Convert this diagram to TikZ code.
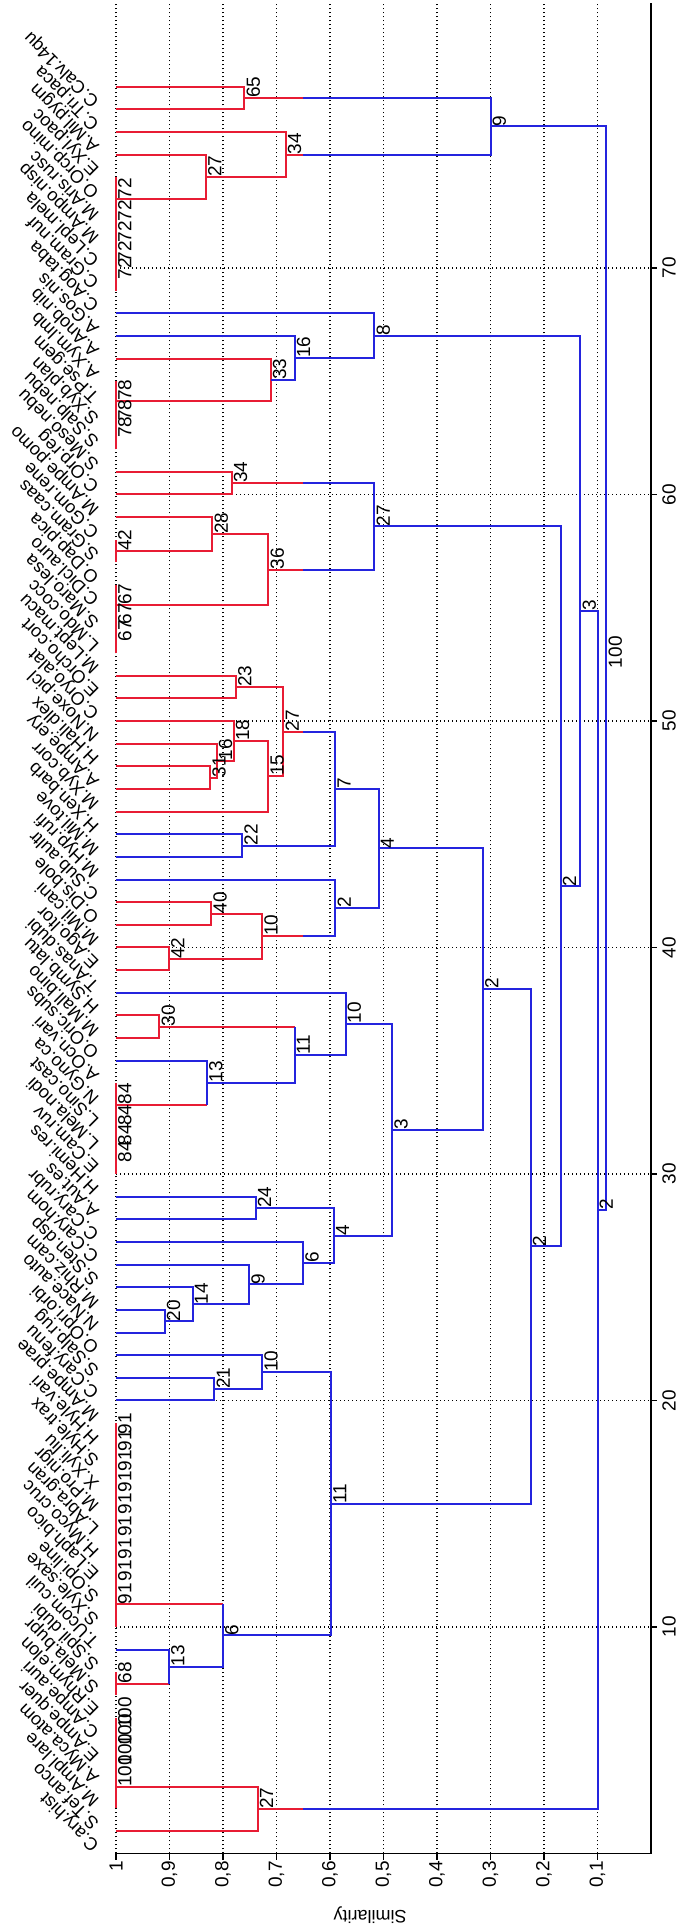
\documentclass[tikz,border=0pt]{standalone}
\usepackage{fontspec}
\setmainfont{Liberation Sans}
\newcommand\fsz{\fontsize{19}{21}\selectfont}
\newcommand\fsl{\fontsize{18}{20}\selectfont}
\definecolor{mred}{RGB}{232,28,52}
\definecolor{mblue}{RGB}{36,36,222}
\begin{document}
\begin{tikzpicture}[x=-535pt,y=22.65pt,
  rl/.style={draw=mred,line width=2pt},
  bl/.style={draw=mblue,line width=2pt},
  grd/.style={line width=1.4pt,dash pattern=on 1.4pt off 2.6pt},
  ax/.style={line width=1.8pt},
  mlab/.style={xshift=2pt,rotate=90,anchor=north west,inner sep=0pt,font=\fsz},
  llab/.style={rotate=135,anchor=base west,inner sep=0pt,font=\fsl},
  tlab/.style={rotate=90,anchor=east,inner sep=0pt,font=\fsz},
  ilab/.style={rotate=90,anchor=north,inner sep=0pt,font=\fsz}]
\useasboundingbox (1.21682,-3.3775) rectangle (-0.05234,81.832);
% grid
\foreach \s in {0.1,0.2,...,1.01} \draw[grd] (\s,0) -- (\s,81.7);
\foreach \k in {10,20,...,70} \draw[grd] (1,\k) -- (0,\k);
% axes
\draw[ax] (1,0) -- (0,0) -- (0,81.7);
\foreach \s/\t in {1/1,0.9/{0,9},0.8/{0,8},0.7/{0,7},0.6/{0,6},0.5/{0,5},0.4/{0,4},0.3/{0,3},0.2/{0,2},0.1/{0,1}}{
  \draw[ax] (\s,0) -- (\s,-0.27);
  \node[tlab] (t\s) at (\s,-0.33) {\t};}
\foreach \k in {10,20,...,70}{
  \draw[ax] (0,\k) -- (-0.011,\k);
  \node[ilab] (i\k) at (-0.021,\k) {\k};}
\node[rotate=180,inner sep=0pt,font=\fsl] (ylab) at (0.525,-2.715) {Similarity};
% ---- top cluster
\draw[rl] (1,78) -| (.76,77) -- (1,77);
\draw[rl] (1,69) -- (1,74);
\draw[rl] (1,75) -| (.832,73.03) -- (1,73.03);
\draw[rl] (1,76) -| (.683,74.015) -- (.832,74.015);
\draw[rl] (.76,77.5) -- (.65,77.5);
\draw[rl] (.683,75.0075) -- (.65,75.0075);
\draw[bl] (.65,77.5) -| (.30,75.0075) -- (.65,75.0075);
% ---- H cluster
\draw[rl] (1,62) -- (1,65);
\draw[rl] (1,66) -| (.711,64.125) -- (1,64.125);
\draw[bl] (1,67) -| (.666,65.0625) -- (.711,65.0625);
\draw[bl] (1,68) -| (.517,66.031) -- (.666,66.031);
% ---- L cluster
\draw[rl] (1,61) -| (.784,60) -- (1,60);
\draw[rl] (1,57) -- (1,58);
\draw[rl] (1,59) -| (.82,57.5) -- (1,57.5);
\draw[rl] (1,53) -- (1,56);
\draw[rl] (.82,58.25) -| (.715,55.125) -- (1,55.125);
\draw[rl] (.784,60.5) -- (.65,60.5);
\draw[rl] (.715,56.6875) -- (.65,56.6875);
\draw[bl] (.65,60.5) -| (.517,56.6875) -- (.65,56.6875);
% ---- Q / T cluster
\draw[rl] (1,52) -| (.776,51) -- (1,51);
\draw[rl] (1,48) -| (.824,47) -- (1,47);
\draw[rl] (1,49) -| (.812,47.5) -- (.824,47.5);
\draw[rl] (1,50) -| (.78,48.25) -- (.812,48.25);
\draw[rl] (.78,49.125) -| (.715,46) -- (1,46);
\draw[rl] (.776,51.5) -| (.687,47.5625) -- (.715,47.5625);
\draw[bl] (1,45) -| (.764,44) -- (1,44);
\draw[rl] (.687,49.531) -- (.65,49.531);
\draw[bl] (.65,49.531) -| (.59,44.5) -- (.764,44.5);
\draw[rl] (1,42) -| (.822,41) -- (1,41);
\draw[rl] (1,40) -| (.901,39) -- (1,39);
\draw[rl] (.822,41.5) -| (.727,39.5) -- (.901,39.5);
\draw[rl] (.727,40.5) -- (.65,40.5);
\draw[bl] (1,43) -| (.59,40.5) -- (.65,40.5);
\draw[bl] (.59,47.016) -| (.509,41.75) -- (.59,41.75);
% ---- W cluster
\draw[rl] (1,37) -| (.919,36) -- (1,36);
\draw[rl] (1,30) -- (1,34);
\draw[rl] (1,33.0625) -- (.83,33.0625);
\draw[bl] (1,35) -| (.83,33.0625);
\draw[rl] (.919,36.5) -- (.666,36.5);
\draw[bl] (.666,36.5) -- (.666,34.031) -- (.83,34.031);
\draw[bl] (1,38) -| (.571,35.266) -- (.666,35.266);
\draw[bl] (1,29) -| (.739,28) -- (1,28);
\draw[bl] (1,24) -| (.909,23) -- (1,23);
\draw[bl] (1,25) -| (.857,23.5) -- (.909,23.5);
\draw[bl] (1,26) -| (.751,24.25) -- (.857,24.25);
\draw[bl] (1,27) -| (.65,25.125) -- (.751,25.125);
\draw[bl] (.739,28.5) -| (.593,26.0625) -- (.65,26.0625);
\draw[bl] (.571,36.633) -| (.484,27.281) -- (.593,27.281);
\draw[bl] (.509,44.383) -| (.314,31.957) -- (.484,31.957);
% ---- Z cluster
\draw[bl] (1,21) -| (.816,20) -- (1,20);
\draw[bl] (1,22) -| (.727,20.5) -- (.816,20.5);
\draw[rl] (1,10) -- (1,19);
\draw[rl] (1,7) -- (1,8);
\draw[rl] (1,7.5) -- (.901,7.5);
\draw[bl] (1,9) -| (.901,7.5);
\draw[rl] (1,11) -- (.80,11);
\draw[bl] (.80,11) -- (.80,8.25) -- (.901,8.25);
\draw[bl] (.727,21.25) -| (.598,9.625) -- (.80,9.625);
% ---- upper joins
\draw[bl] (.314,38.17) -| (.225,15.4375) -- (.598,15.4375);
\draw[bl] (.517,58.594) -| (.169,26.80) -- (.225,26.80);
\draw[bl] (.517,67.016) -| (.132,42.70) -- (.169,42.70);
\draw[rl] (1,2) -- (1,6);
\draw[rl] (1,1) -| (.735,2.9375) -- (1,2.9375);
\draw[rl] (.735,1.969) -- (.65,1.969);
\draw[bl] (.65,1.969) -| (.10,54.86) -- (.132,54.86);
\draw[bl] (.30,76.254) -| (.0835,28.41) -- (.10,28.41);
% ---- merge labels
\foreach \n/\s/\i/\t in {a/.76/77.5/65, b/.832/74.015/27, c/.683/75.0075/34, d/.30/76.254/9,
  e/.711/65.0625/33, f/.666/66.031/16, h/.517/67.016/8, ia/.784/60.5/34, j/.82/58.25/28,
  k/.715/56.6875/36, l/.517/58.594/27, m/.776/51.5/23, na/.824/47.5/31, nb/.812/48.25/16,
  nc/.78/49.125/18, nd/.715/47.5625/15, o/.687/49.531/27, p/.764/44.5/22, q/.59/47.016/7,
  ra/.822/41.5/40, rb/.901/39.5/42, rc/.727/40.5/10, s/.59/41.75/2, t/.509/44.383/4,
  ua/.919/36.5/30, ub/.83/34.031/13, uc/.666/35.266/11, ud/.571/36.633/10,
  va/.739/28.5/24, vb/.909/23.5/20, vc/.857/24.25/14, vd/.751/25.125/9, ve/.65/26.0625/6,
  vf/.593/27.281/4, w/.484/31.957/3, x/.314/38.17/2, ya/.816/20.5/21, yb/.727/21.25/10,
  za/.901/8.25/13, zb/.80/9.625/6, zc/.598/15.4375/11, aa/.225/26.80/2, ab/.169/42.70/2,
  ac/.132/54.86/3, ad/.735/1.969/27, ae/.10/28.41/2, af/.0835/52.33/100}
  \node[mlab] (m\n) at (\s,\i) {\t};
% ---- identical-leaf group labels
\foreach \i [count=\c] in {69.5,70.25,71.125,72.0625,73.03} \node[mlab] (g72\c) at (1,\i) {72};
\foreach \i [count=\c] in {62.5,63.25,64.125} \node[mlab] (g78\c) at (1,\i) {78};
\node[mlab] (g42) at (1,57.5) {42};
\foreach \i [count=\c] in {53.5,54.25,55.125} \node[mlab] (g67\c) at (1,\i) {67};
\foreach \i [count=\c] in {30.5,31.25,32.125,33.0625} \node[mlab] (g84\c) at (1,\i) {84};
\foreach \i [count=\c] in {18.5,17.75,16.875,15.94,14.97,13.98,12.99,12.0,11.0} \node[mlab] (g91\c) at (1,\i) {91};
\node[mlab] (g68) at (1,7.5) {68};
\foreach \i [count=\c] in {5.5,4.75,3.875,2.9375} \node[mlab] (g100\c) at (1,\i) {100};
% ---- leaf labels
\foreach \k/\t in {1/C.ary.hist,2/S.Tef.anco,3/M.Ampl.lare,4/A.Myca.atom,5/E.Ampe.quer,
  6/C.Ampe.auri,7/E.Rhym.elon,8/S.Mela.bupr,9/S.Spil.dubi,10/T.Ucom.cuil,11/S.Xyle.saxe,
  12/S.Opi.line,13/E.Laph.bico,14/H.Myco.cruc,15/L.Abra.gran,16/M.Pro.nigr,17/X.Xyli.liu,
  18/S.Hyle.trax,19/H.Hyle.vari,20/M.Ampe.prae,21/C.Cary.fenu,22/S.Salp.rug,23/O.Opri.orbi,
  24/N.Nace.auto,25/M.Rhiz.cam,26/S.Sten.dsp,27/C.Cary.hom,28/C.Cary.rubr,29/A.Aut.es,
  30/H.Hemi.res,31/E.Cam.ruv,32/L.Mela.nodi,33/L.Sino.cast,34/N.Gyno.ca,35/A.Ocn.vari,
  36/O.Oric.subs,37/M.Mall.bino,38/H.Symb.latu,39/T.Anas.dubi,40/E.Ago.ltor,41/M.Mil.cani,
  42/O.Dis.bole,43/C.Sub.aultr,44/M.Hyp.rufi,45/M.Mil.tove,46/H.Xen.barb,47/M.Xyb.corr,
  48/A.Ampe.ery,49/H.Hali.dlex,50/N.Noxe.picl,51/C.Oryo.alat,52/E.Orcho.cort,53/M.Lept.macu,
  54/L.Mdo.cocc,55/S.Maro.lesa,56/C.Dicl.auro,57/O.Dap.pica,58/S.Gram.caas,59/C.Gom.rene,
  60/M.Ampe.pomo,61/C.Orp.reg,62/S.Meso.nebu,63/S.Salp.nebu,64/S.Xyb.plan,65/T.Pse.gem,
  66/A.Xym.lmb,67/A.Anob.nib,68/A.Gos.nis,69/C.Aog.taba,70/C.Gram.nuf,71/C.Lepl.mela,
  72/M.Ampo.nisp,73/M.Aris.rusc,74/O.Orcp.mino,75/E.Xyl.paoc,76/A.Mil.pygm,77/C.Tri.paca,
  78/C.Calv.14qu}
  \node[llab] (leaf\k) at (1.03,\k-0.62) {\t};
\end{tikzpicture}
\end{document}
